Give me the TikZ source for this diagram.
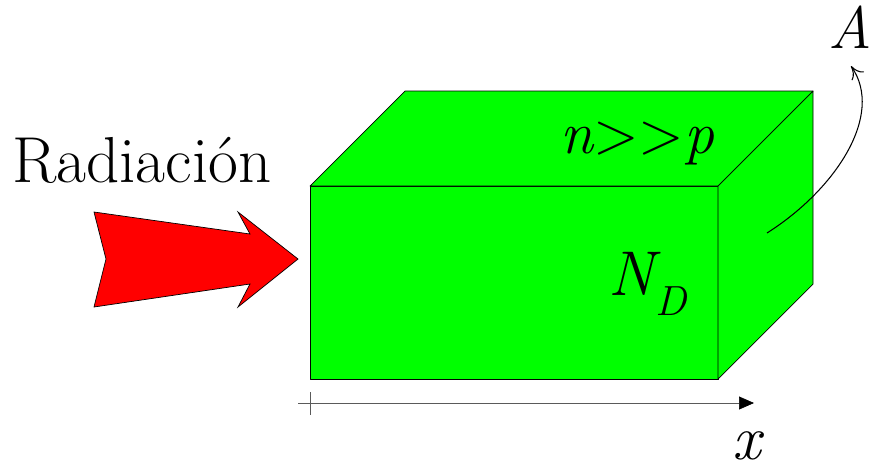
\documentclass[tikz,border=0pt]{standalone}
\usetikzlibrary{arrows.meta}
\definecolor{boxgreen}{RGB}{0,255,0}
\definecolor{radred}{RGB}{255,0,0}
\definecolor{axisgray}{RGB}{90,90,90}

\begin{document}
\begin{tikzpicture}[x=0.02cm,y=-0.02cm, every node/.style={font=\fontsize{36}{40}\selectfont,inner sep=0pt},
    face/.style={draw,fill=boxgreen,line join=round,thin}]
        \useasboundingbox (0,0) rectangle (869,467);
        % semiconductor block
        \coordinate (fsw) at (310,379);
        \coordinate (fnw) at (310,186);
        \coordinate (fne) at (718,186);
        \coordinate (fse) at (718,379);
        \coordinate (bnw) at (405,91);
        \coordinate (bne) at (813,91);
        \coordinate (bse) at (813,284);
        \draw[face] (fsw) -- (fnw) -- (fne) -- (fse) -- cycle;
        \draw[face] (fnw) -- (bnw) -- (bne) -- (fne) -- cycle;
        \draw[face] (fne) -- (bne) -- (bse) -- (fse) -- cycle;
        % radiation arrow
        \draw[fill=radred,thin,line join=miter] (94,212) -- (250,234) -- (238,212) -- (298,259) -- (238,307) -- (250,284) -- (94,307) -- (106,259) -- cycle;
        % labels
        \node[anchor=base west,font=\fontsize{37}{42}\selectfont] (rad) at (12,182) {Radiación};
        \node[anchor=base west,font=\fontsize{34}{40}\selectfont] (np) at (560,153) {\itshape n\upshape>\kern0pt>\itshape p};
        \node[anchor=base west,font=\fontsize{36}{40}\selectfont\itshape] (nd) at (608,295) {N};
        \node[anchor=base west,font=\fontsize{24}{28}\selectfont\itshape,yshift=-0.4cm] (ndsub) at (nd.base east) {D};
        \node[anchor=base west,font=\fontsize{34}{40}\selectfont\itshape] (area) at (828,48) {A};
        % area arrow
        \coordinate (aface) at (767,233);
        \draw[-{To[length=2.5mm,width=3mm]},semithick] (aface) .. controls (835,190) and (885,115) .. (851,66);
        % x axis
        \coordinate (x0) at (298,403);
        \coordinate (x1) at (754,403);
        \draw[axisgray,thin] (310,392) -- (310,415);
        \draw[axisgray,thin,-{Triangle[length=3mm,width=2.6mm,color=black]}] (x0) -- (x1);
        \node[anchor=base,font=\fontsize{36}{40}\selectfont\itshape] (xl) at (747,459) {x};
\end{tikzpicture}
\end{document}
